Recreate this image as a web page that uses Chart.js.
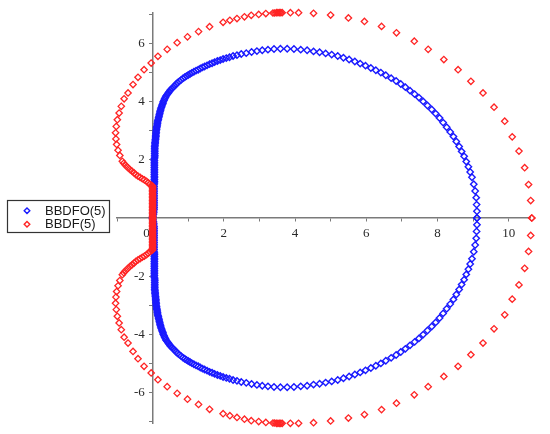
<!DOCTYPE html>
<html><head><meta charset="utf-8">
<script src="https://cdn.jsdelivr.net/npm/chart.js@4.4.0/dist/chart.umd.min.js"></script>
<style>html,body{margin:0;padding:0;background:#fff;}#wrap{width:550px;height:434px;position:relative;}</style>
</head><body><div id="wrap"><canvas id="c" width="550" height="434"></canvas></div>
<script>
const seriesNames = ['BBDFO(5)', 'BBDF(5)'];
const xTickLabels = [0, 2, 4, 6, 8, 10];
const yTickLabels = [-6, -4, -2, 2, 4, 6];

// BBDFO(5): upper half of boundary (x, y) and lower half y
const blueUpperX = [0,0.01,0.02,0.03,0.03,0.04,0.04,0.04,0.04,0.04,0.04,0.04,0.04,0.04,0.04,0.04,0.04,0.04,0.04,0.04,0.05,0.05,0.05,0.05,0.05,0.05,0.05,0.05,0.05,0.05,0.05,0.05,0.05,0.05,0.05,0.06,0.06,0.06,0.06,0.06,0.06,
0.06,0.065,0.07,0.07,0.075,0.08,0.085,0.09,0.09,0.095,0.1,0.1,0.11,0.115,0.12,0.13,0.135,0.14,0.15,0.16,0.17,0.18,0.19,0.2,0.21,0.22,0.23,0.245,0.26,0.275,0.29,0.3,0.32,0.34,0.36,0.38,0.41,0.44,0.47,0.5,0.54,0.58,0.62,0.66,0.7,0.75,0.8,0.85,
0.9,0.95,1.0,1.05,1.1,1.16,1.22,1.28,1.34,1.4,1.46,1.53,1.6,1.67,1.74,1.82,1.9,1.98,2.07,2.16,2.26,2.37,2.49,2.63,2.78,2.93,3.08,3.24,3.41,3.59,
3.78,3.97,4.16,4.34,4.52,4.69,4.86,5.03,5.2,5.36,5.52,5.68,5.83,5.98,6.13,6.27,6.41,6.55,6.7,6.84,6.97,7.1,7.23,7.36,7.48,7.6,7.72,7.84,7.95,8.06,8.16,8.26,8.36,8.45,8.53,8.61,8.68,8.75,8.81,8.87,8.92,8.97,9.02,9.06,9.09,9.1,9.11,9.11];
const blueUpperY = [0,0.06,0.12,0.18,0.24,0.3,0.36,0.42,0.48,0.54,0.6,0.66,0.72,0.78,0.84,0.9,0.96,1.02,1.08,1.14,1.2,1.26,1.32,1.38,1.44,1.5,1.56,1.62,1.68,1.74,1.8,1.86,1.92,1.98,2.04,2.1,2.16,2.22,2.28,2.34,2.4,
2.45,2.5,2.55,2.6,2.65,2.7,2.75,2.8,2.85,2.9,2.95,3.0,3.05,3.1,3.15,3.2,3.25,3.3,3.35,3.4,3.45,3.5,3.55,3.6,3.65,3.7,3.75,3.8,3.85,3.9,3.95,4.0,4.05,4.1,4.15,4.2,4.25,4.3,4.35,4.4,4.45,4.5,4.55,4.6,4.65,4.7,4.75,4.8,
4.84,4.88,4.92,4.95,4.99,5.03,5.07,5.1,5.14,5.18,5.21,5.25,5.29,5.32,5.36,5.4,5.43,5.47,5.5,5.53,5.57,5.6,5.64,5.67,5.71,5.74,5.77,5.79,5.81,5.82,
5.82,5.81,5.79,5.77,5.73,5.7,5.66,5.62,5.57,5.51,5.45,5.38,5.31,5.24,5.16,5.08,5.0,4.91,4.81,4.71,4.61,4.5,4.38,4.26,4.14,4.01,3.87,3.73,3.59,3.44,3.28,3.12,2.96,2.8,2.63,2.46,2.29,2.12,1.94,1.76,1.58,1.4,1.16,0.93,0.7,0.46,0.23,0];
const blueLowerY = [0,-0.06,-0.12,-0.18,-0.24,-0.3,-0.36,-0.42,-0.48,-0.54,-0.6,-0.66,-0.72,-0.78,-0.84,-0.9,-0.96,-1.02,-1.08,-1.14,-1.2,-1.26,-1.32,-1.38,-1.44,-1.5,-1.56,-1.62,-1.68,-1.74,-1.8,-1.86,-1.92,-1.98,-2.04,-2.1,-2.16,-2.22,-2.28,-2.34,-2.4,
-2.45,-2.5,-2.55,-2.6,-2.65,-2.7,-2.75,-2.8,-2.85,-2.9,-2.95,-3.0,-3.05,-3.1,-3.15,-3.2,-3.25,-3.3,-3.35,-3.4,-3.45,-3.5,-3.55,-3.6,-3.65,-3.7,-3.75,-3.8,-3.85,-3.9,-3.95,-4.0,-4.05,-4.1,-4.15,-4.2,-4.25,-4.3,-4.35,-4.4,-4.45,-4.5,-4.55,-4.6,-4.65,-4.7,-4.75,-4.8,
-4.84,-4.88,-4.92,-4.95,-4.99,-5.03,-5.07,-5.1,-5.14,-5.18,-5.21,-5.25,-5.29,-5.32,-5.36,-5.4,-5.43,-5.47,-5.5,-5.53,-5.57,-5.6,-5.64,-5.67,-5.71,-5.74,-5.77,-5.79,-5.81,-5.82,
-5.82,-5.81,-5.79,-5.77,-5.73,-5.7,-5.66,-5.62,-5.57,-5.51,-5.45,-5.38,-5.31,-5.24,-5.16,-5.08,-5.0,-4.91,-4.81,-4.71,-4.61,-4.5,-4.38,-4.26,-4.14,-4.01,-3.87,-3.73,-3.59,-3.44,-3.28,-3.12,-2.96,-2.8,-2.63,-2.46,-2.29,-2.12,-1.94,-1.76,-1.58,-1.4,-1.16,-0.93,-0.7,-0.46,-0.23,0];

// BBDF(5): upper half of boundary (x, y) and lower half y
const redUpperX = [0,0,0,0,0,0,0,0,0,0,0,0,0,0,0,0,0,0,0,0,0,0,0,
-0.03,-0.08,-0.12,-0.17,-0.23,-0.29,-0.35,-0.41,-0.47,-0.52,-0.58,-0.64,-0.7,-0.76,-0.81,-0.85,-0.92,-0.97,-1.01,-1.03,-1.04,-1.02,-0.99,-0.94,-0.88,-0.8,-0.69,-0.55,-0.41,-0.24,-0.04,0.15,0.41,0.69,0.98,1.29,1.6,1.98,2.17,2.37,2.58,2.77,2.98,3.18,3.38,3.43,3.48,3.52,3.56,3.6,3.64,3.87,4.1,4.52,5.0,5.5,5.95,6.43,6.85,7.35,7.74,8.18,8.58,8.94,9.28,9.59,9.89,10.1,10.29,10.45,10.56,10.62,10.65];
const redUpperY = [0,0.05,0.1,0.15,0.2,0.25,0.3,0.35,0.4,0.45,0.5,0.55,0.6,0.65,0.7,0.75,0.8,0.85,0.9,0.95,1.0,1.05,1.1,
1.12,1.16,1.21,1.26,1.31,1.35,1.4,1.44,1.49,1.55,1.61,1.67,1.74,1.81,1.88,1.95,2.15,2.33,2.53,2.72,2.93,3.15,3.38,3.61,3.84,4.1,4.3,4.59,4.84,5.1,5.33,5.56,5.8,6.03,6.23,6.41,6.58,6.73,6.8,6.86,6.92,6.97,7.0,7.03,7.05,7.05,7.06,7.06,7.06,7.06,7.06,7.06,7.06,7.04,6.98,6.88,6.76,6.59,6.37,6.08,5.8,5.45,5.1,4.7,4.3,3.81,3.33,2.79,2.3,1.73,1.15,0.6,0];
const redLowerY = [0,-0.05,-0.1,-0.15,-0.2,-0.25,-0.3,-0.35,-0.4,-0.45,-0.5,-0.55,-0.6,-0.65,-0.7,-0.75,-0.8,-0.85,-0.9,-0.95,-1.0,-1.05,-1.1,
-1.12,-1.16,-1.21,-1.26,-1.31,-1.35,-1.4,-1.44,-1.49,-1.55,-1.61,-1.67,-1.74,-1.81,-1.88,-1.95,-2.15,-2.33,-2.53,-2.72,-2.93,-3.15,-3.38,-3.61,-3.84,-4.1,-4.3,-4.59,-4.84,-5.1,-5.33,-5.56,-5.8,-6.03,-6.23,-6.41,-6.58,-6.73,-6.8,-6.86,-6.92,-6.97,-7.0,-7.03,-7.05,-7.05,-7.06,-7.06,-7.06,-7.06,-7.06,-7.06,-7.06,-7.04,-6.98,-6.88,-6.76,-6.59,-6.37,-6.08,-5.8,-5.45,-5.1,-4.7,-4.3,-3.81,-3.33,-2.79,-2.3,-1.73,-1.15,-0.6,0];

function toPoints(xs, ysUp, ysLow) {
  const up = xs.map((x, i) => ({x: x, y: ysUp[i]}));
  const low = xs.map((x, i) => ({x: x, y: ysLow[i]}));
  return up.concat(low);
}

const BLUE = '#1a1aff';
const RED = '#ff2424';
const AXIS = '#7a7a7a';
const TICKFONT = {family: '"Liberation Serif", "Times New Roman", serif', size: 13};

const boxLegend = {
  id: 'boxLegend',
  afterDraw(chart) {
    const ctx = chart.ctx;
    ctx.save();
    ctx.strokeStyle = '#333';
    ctx.lineWidth = 1.2;
    ctx.strokeRect(7.5, 200.5, 102, 32);
    const items = [[seriesNames[0], BLUE, 210.8], [seriesNames[1], RED, 224.3]];
    ctx.font = '13px "Liberation Sans", Arial, sans-serif';
    ctx.textBaseline = 'middle';
    ctx.textAlign = 'left';
    items.forEach(([txt, col, y]) => {
      ctx.beginPath();
      const r = 2.8, cx = 27;
      ctx.moveTo(cx, y - r); ctx.lineTo(cx + r, y); ctx.lineTo(cx, y + r); ctx.lineTo(cx - r, y); ctx.closePath();
      ctx.strokeStyle = col; ctx.lineWidth = 1.4; ctx.stroke();
      ctx.fillStyle = '#1a1a1a';
      ctx.fillText(txt, 45, y + 0.5);
    });
    ctx.restore();
  }
};

new Chart(document.getElementById('c'), {
  type: 'scatter',
  data: {
    datasets: [
      {label: seriesNames[0], data: toPoints(blueUpperX, blueUpperY, blueLowerY), xAxisID: 'x', yAxisID: 'y', borderColor: BLUE, backgroundColor: 'rgba(0,0,0,0)', pointStyle: 'rectRot', pointRadius: 3.2, pointBorderWidth: 1.4, order: 1, clip: false},
      {label: seriesNames[1], data: toPoints(redUpperX, redUpperY, redLowerY), xAxisID: 'x', yAxisID: 'y', borderColor: RED, backgroundColor: 'rgba(0,0,0,0)', pointStyle: 'rectRot', pointRadius: 3.2, pointBorderWidth: 1.3, order: 0, clip: false}
    ]
  },
  options: {
    responsive: false,
    devicePixelRatio: 1,
    animation: false,
    layout: {padding: {left: 117, right: 20, top: 13, bottom: 11}},
    plugins: {legend: {display: false}, tooltip: {enabled: false}},
    scales: {
      x: {
        type: 'linear', axis: 'x', min: -1, max: 10.6, position: {y: 0},
        border: {color: AXIS, width: 1.5},
        grid: {display: true, drawOnChartArea: false, drawTicks: true, tickLength: 3, color: AXIS, lineWidth: 1},
        ticks: {stepSize: 1, includeBounds: false, autoSkip: false, maxRotation: 0, padding: 5, color: '#2a2a2a', font: TICKFONT,
          callback: (v) => (v !== 0 && xTickLabels.includes(v)) ? String(v) : ''}
      },
      y: {
        type: 'linear', axis: 'y', min: -7.05, max: 7.05, position: {x: 0},
        border: {color: AXIS, width: 1.5},
        grid: {display: true, drawOnChartArea: false, drawTicks: true, tickLength: 3, color: AXIS, lineWidth: 1},
        ticks: {stepSize: 1, includeBounds: false, autoSkip: false, display: false}
      },
      x0: {
        type: 'linear', axis: 'x', min: -1, max: 10.6, position: {y: 0},
        border: {display: false},
        grid: {display: true, drawOnChartArea: false, drawTicks: true, tickLength: 3, color: 'rgba(0,0,0,0)'},
        ticks: {stepSize: 1, includeBounds: false, autoSkip: false, maxRotation: 0, padding: 5, labelOffset: -6, color: '#2a2a2a', font: TICKFONT,
          callback: (v) => (v === 0 && xTickLabels.includes(v)) ? String(v) : ''}
      },
      yLab: {
        type: 'linear', axis: 'y', min: -7.05, max: 7.05, position: {x: -0.22},
        border: {display: false},
        grid: {display: false},
        ticks: {stepSize: 1, includeBounds: false, autoSkip: false, color: '#2a2a2a', font: TICKFONT,
          callback: (v) => yTickLabels.includes(v) ? String(v) : ''}
      }
    }
  },
  plugins: [boxLegend]
});
</script>
</body></html>
